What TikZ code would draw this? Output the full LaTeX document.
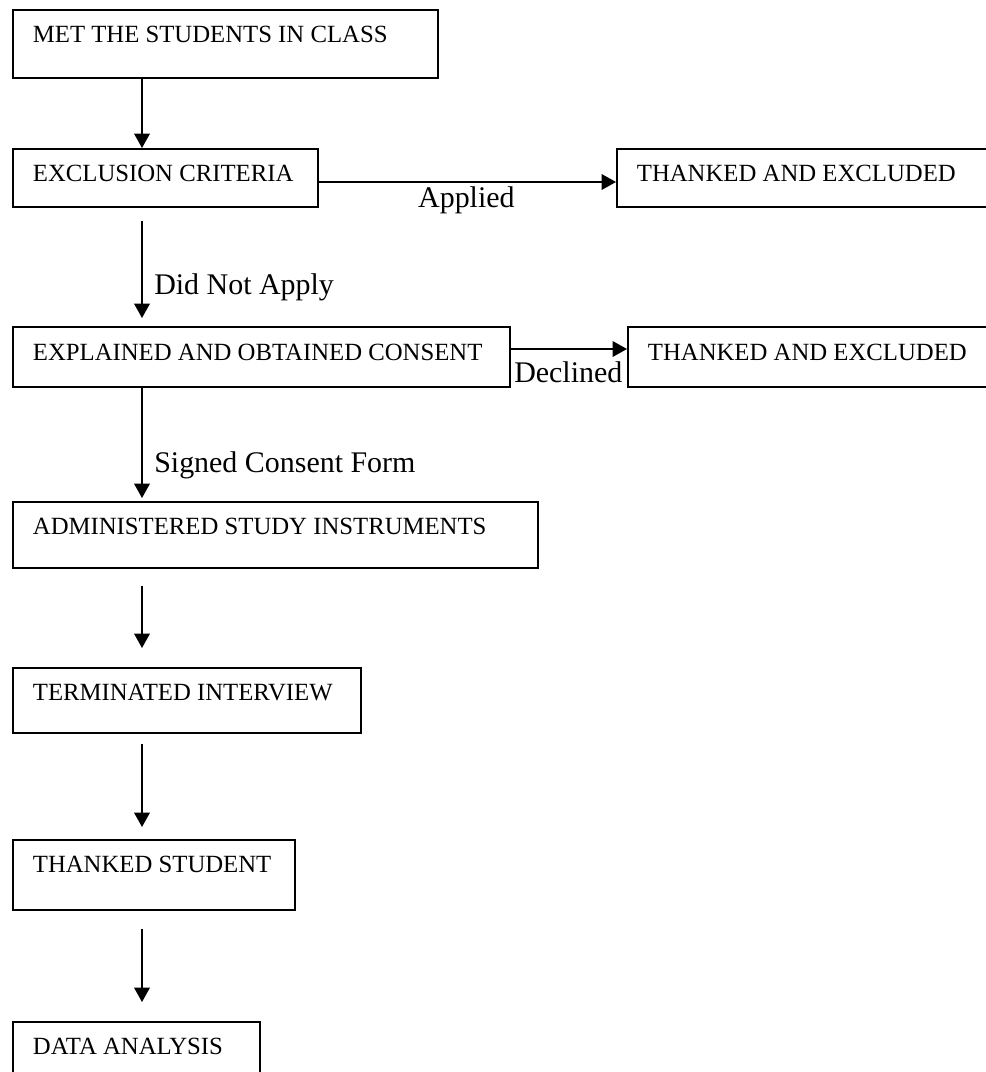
\documentclass[tikz,border=0pt]{standalone}
\usepackage{fontspec}
\setmainfont{Liberation Serif}
\usetikzlibrary{arrows.meta}

\begin{document}
\begin{tikzpicture}[
  stage/.style={draw, line width=0.45mm, anchor=north west, align=flush left,
                inner xsep=5mm, inner ysep=0pt, text height=8.25mm,
                font=\fontsize{17.6pt}{21pt}\selectfont},
  flow/.style={-{Triangle[length=3.6mm,width=3.9mm]}, line width=0.4mm},
  lbl/.style={inner sep=0pt, font=\fontsize{21.3pt}{25pt}\selectfont},
]
  \useasboundingbox (0,0) rectangle (246.5mm,-268mm);

  % main column
  \node[stage, text width=96.25mm, text depth=8.75mm] (met) at (3mm,-2.25mm)
    {MET THE STUDENTS IN CLASS};
  \node[stage, text width=66.25mm, text depth=6.25mm] (excl) at (3mm,-37mm)
    {EXCLUSION CRITERIA};
  \node[stage, text width=114.25mm, text height=8.5mm, text depth=6.5mm] (expl) at (3mm,-81.5mm)
    {EXPLAINED AND OBTAINED CONSENT};
  \node[stage, text width=121.25mm, text depth=8.25mm] (admin) at (3mm,-125.25mm)
    {ADMINISTERED STUDY INSTRUMENTS};
  \node[stage, text width=77mm, text depth=8mm] (term) at (3mm,-166.75mm)
    {TERMINATED INTERVIEW};
  \node[stage, text width=60.5mm, text depth=9.25mm] (thst) at (3mm,-209.75mm)
    {THANKED STUDENT};
  \node[stage, text width=51.75mm, text depth=8mm] (data) at (3mm,-255.25mm)
    {DATA ANALYSIS};

  % side exits
  \node[stage, text width=86mm, text depth=6.25mm] (thx1) at (154mm,-37mm)
    {THANKED AND EXCLUDED};
  \node[stage, text width=83.25mm, text height=8.5mm, text depth=6.5mm] (thx2) at (156.75mm,-81.5mm)
    {THANKED AND EXCLUDED};

  % down the column
  \draw[flow] ([xshift=32.5mm]met.south west) -- ([xshift=32.5mm]excl.north west);
  \draw[flow, shorten <=3.25mm, shorten >=2mm]
    ([xshift=32.5mm]excl.south west) -- ([xshift=32.5mm]expl.north west);
  \draw[flow, shorten >=0.75mm]
    ([xshift=32.5mm]expl.south west) -- ([xshift=32.5mm]admin.north west);
  \draw[flow, shorten <=4.25mm, shorten >=4.75mm]
    ([xshift=32.5mm]admin.south west) -- ([xshift=32.5mm]term.north west);
  \draw[flow, shorten <=2.5mm, shorten >=3mm]
    ([xshift=32.5mm]term.south west) -- ([xshift=32.5mm]thst.north west);
  \draw[flow, shorten <=4.5mm, shorten >=4.75mm]
    ([xshift=32.5mm]thst.south west) -- ([xshift=32.5mm]data.north west);

  % to the right
  \draw[flow] ([yshift=-8.5mm]excl.north east) -- ([yshift=-8.5mm]thx1.north west);
  \draw[flow] ([yshift=-5.75mm]expl.north east) -- ([yshift=-5.75mm]thx2.north west);

  % arrow labels
  \node[lbl, anchor=base] (applied) at (116.6mm,-51.75mm) {Applied};
  \node[lbl, anchor=base west] (notapply) at (38.5mm,-73.5mm) {Did Not Apply};
  \node[lbl, anchor=base west] (declined) at (128.5mm,-95.5mm) {Declined};
  \node[lbl, anchor=base west] (signed) at (38.5mm,-118mm) {Signed Consent Form};
\end{tikzpicture}
\end{document}
